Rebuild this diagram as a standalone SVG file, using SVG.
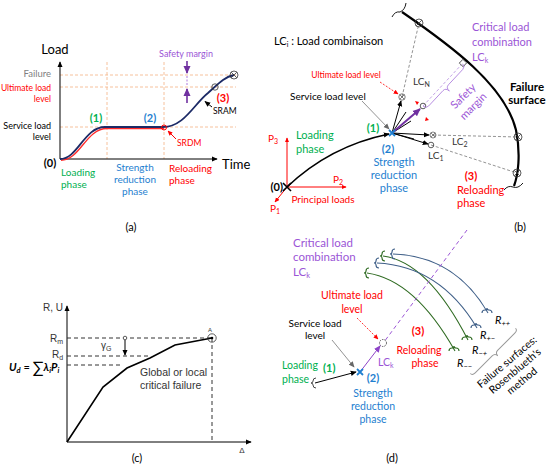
<svg xmlns="http://www.w3.org/2000/svg" width="550" height="469" viewBox="0 0 550 469">
<defs>
<marker id="mk" viewBox="0 0 8 8" refX="7" refY="4" markerWidth="6" markerHeight="6" markerUnits="userSpaceOnUse" orient="auto"><path d="M0,0.5 L8,4 L0,7.5 z" fill="#000"/></marker>
<marker id="mkr" viewBox="0 0 8 8" refX="7" refY="4" markerWidth="5" markerHeight="5" markerUnits="userSpaceOnUse" orient="auto"><path d="M0,0.5 L8,4 L0,7.5 z" fill="#ff0000"/></marker>
<marker id="mkp" viewBox="0 0 8 8" refX="7" refY="4" markerWidth="8" markerHeight="8" markerUnits="userSpaceOnUse" orient="auto"><path d="M0,0.5 L8,4 L0,7.5 z" fill="#7030a0"/></marker>
<marker id="mkl" viewBox="0 0 8 8" refX="7" refY="4" markerWidth="7" markerHeight="7" markerUnits="userSpaceOnUse" orient="auto"><path d="M0,0.5 L8,4 L0,7.5 z" fill="#8e44c8"/></marker>
<marker id="mkg" viewBox="0 0 8 8" refX="7" refY="4" markerWidth="6" markerHeight="6" markerUnits="userSpaceOnUse" orient="auto"><path d="M0,0.5 L8,4 L0,7.5 z" fill="#666"/></marker>
<g id="cx"><circle r="4" fill="#fff" fill-opacity="0" stroke="#333" stroke-width="0.8"/><path d="M-2.8,-2.8 L2.8,2.8 M-2.8,2.8 L2.8,-2.8" stroke="#333" stroke-width="0.8"/></g>
<g id="bx"><path d="M-3,-3 L3,3 M-3,3 L3,-3" stroke="#1f7fd0" stroke-width="1.8"/></g>
</defs>
<style>
text{font-family:Lato,"Liberation Sans",sans-serif;fill:#000}
.ar{font-family:"Liberation Sans",Arial,sans-serif}
.g{fill:#00b050}.b{fill:#1f7fd0}.r{fill:#ff0000}.p{fill:#9b55d6}.gy{fill:#7f7f7f}.dk{fill:#333}
.bd{font-weight:bold}
.mid{text-anchor:middle}.end{text-anchor:end}
.od{stroke:#f4b183;stroke-width:0.8;stroke-dasharray:3 2;fill:none}
.ln{fill:none;stroke:#000;stroke-width:1}
.gd{fill:none;stroke:#777;stroke-width:0.8;stroke-dasharray:3 2}
.kd{fill:none;stroke:#333;stroke-width:1;stroke-dasharray:4 3}
.bc{fill:none;stroke:#3f5f88;stroke-width:1.1}
.gc{fill:none;stroke:#2f6b22;stroke-width:1.1}
</style>

<!-- ============ Panel (a) ============ -->
<g id="panel-a">
  <g id="a-grid">
    <path class="od" d="M60,75 H236 M60,87 H236 M60,127 H236 M107,62 V159 M164,62 V159"/>
  </g>
  <g id="a-connectors">
    <path class="ln" d="M60,159 V62" marker-end="url(#mk)"/>
    <path class="ln" d="M60,159 H217" marker-end="url(#mk)"/>
    <path d="M61,160.3 C80,160.3 86,128.5 107,128.5 L164,128.5" fill="none" stroke="#ff2a2a" stroke-width="1.3"/>
    <path d="M60,159 C78,159 84,127 105,127 L163,127 C184,127 194,104 208,93 C218,84 224,77 234,75" fill="none" stroke="#1c2a66" stroke-width="1.8"/>
    <path d="M187,61 V73" stroke="#7030a0" stroke-width="1.6" fill="none" marker-end="url(#mkp)"/>
    <path d="M187,103 V89" stroke="#7030a0" stroke-width="1.6" fill="none" marker-end="url(#mkp)"/>
    <path d="M187,76 V86" stroke="#9b55d6" stroke-width="0.8" stroke-dasharray="2 1.5"/>
    <path d="M176,139 L168,131" fill="none" stroke="#ff0000" stroke-width="1" marker-end="url(#mkr)"/>
    <path d="M212,107 L205,101.5" class="ln" stroke-width="0.8" marker-end="url(#mk)"/>
    <circle cx="164" cy="127.5" r="2.5" fill="none" stroke="#ff0000" stroke-width="1"/>
    <circle cx="215" cy="87" r="3.2" fill="none" stroke="#333" stroke-width="0.8"/>
    <use href="#cx" x="234" y="75"/>
  </g>
  <g id="a-labels">
    <text x="55" y="54" class="mid" font-size="13">Load</text>
    <text x="51" y="77" class="end gy" font-size="9.5">Failure</text>
    <text x="51" y="91" class="end r" font-size="8.5">Ultimate load</text>
    <text x="51" y="102" class="end r" font-size="8.5">level</text>
    <text x="51" y="129" class="end" font-size="9">Service load</text>
    <text x="51" y="139.5" class="end" font-size="9">level</text>
    <text x="186" y="57" class="mid p" font-size="9">Safety margin</text>
    <text x="96" y="122" class="mid g bd" font-size="11">(1)</text>
    <text x="150" y="122" class="mid b bd" font-size="11">(2)</text>
    <text x="223" y="102" class="mid r bd" font-size="11">(3)</text>
    <text x="213" y="114" font-size="8.5">SRAM</text>
    <text x="177" y="145.5" class="r" font-size="8.5">SRDM</text>
    <text x="50" y="167" class="mid bd" font-size="11">(0)</text>
    <text x="222" y="169" font-size="13">Time</text>
    <text x="61" y="176" class="g" font-size="10">Loading</text>
    <text x="61" y="188" class="g" font-size="10">phase</text>
    <text x="135" y="171" class="mid b" font-size="10">Strength</text>
    <text x="135" y="183" class="mid b" font-size="10">reduction</text>
    <text x="135" y="195" class="mid b" font-size="10">phase</text>
    <text x="169" y="172" class="r" font-size="10">Reloading</text>
    <text x="169" y="184" class="r" font-size="10">phase</text>
    <text x="131" y="231" class="mid" font-size="11">(a)</text>
  </g>
</g>

<!-- ============ Panel (b) ============ -->
<g id="panel-b">
  <g id="b-surface">
    <path d="M402,12 C450,45 505,85 516,130 C521,155 518,175 514,186" fill="none" stroke="#000" stroke-width="2.2"/>
    <path d="M392,17 Q395,11 400,12 Q405,10 406,3" fill="none" stroke="#000" stroke-width="0.9"/>
    <path d="M504,190 Q508,185 513,187 Q518,189 523,183" fill="none" stroke="#000" stroke-width="0.9"/>
  </g>
  <g id="b-connectors">
    <path class="gd" d="M402,97 L419,23 M433,135 L518,137 M431,145 L517,173"/>
    <path d="M423,106 L463,63" fill="none" stroke="#b48ae0" stroke-width="0.8" stroke-dasharray="3 2"/>
    <path d="M287,187 V138" fill="none" stroke="#ff0000" stroke-width="1" marker-end="url(#mkr)"/>
    <path d="M287,187 H346" fill="none" stroke="#ff0000" stroke-width="1" marker-end="url(#mkr)"/>
    <path d="M287,187 L275,202" fill="none" stroke="#ff0000" stroke-width="1" marker-end="url(#mkr)"/>
    <path d="M287,187 Q330,146 389,134" fill="none" stroke="#000" stroke-width="1.5" marker-end="url(#mk)"/>
    <path d="M362,101 L389,129" fill="none" stroke="#777" stroke-width="0.8" marker-end="url(#mkg)"/>
    <path d="M380,82 L398,94" fill="none" stroke="#ff0000" stroke-width="0.8" stroke-dasharray="2 1.5" marker-end="url(#mkr)"/>
    <path d="M392,133 L401,101" class="ln" stroke-width="0.8" marker-end="url(#mk)"/>
    <path d="M392,133 L429,135" class="ln" stroke-width="0.8" marker-end="url(#mk)"/>
    <path d="M392,133 L428,144" class="ln" stroke-width="0.8" marker-end="url(#mk)"/>
    <path d="M392,133 L411,121 M392,133 L414,139 M392,133 L406,112" class="ln" stroke-width="0.6"/>
    <path d="M392,133 L420,109" fill="none" stroke="#7030a0" stroke-width="2" marker-end="url(#mkp)"/>
    <path d="M415,101 l4,1 l-2,3 z M426,117 l3,3 l-4,1 z" fill="#ff0000"/>
    <path d="M283,183 L291,191 M283,191 L291,183" stroke="#000" stroke-width="1.6"/>
    <use href="#bx" x="392" y="133"/>
    <use href="#cx" x="419" y="23"/>
    <use href="#cx" x="402" y="97" transform="translate(402,97) scale(0.8) translate(-402,-97)"/>
    <use href="#cx" x="433" y="135" transform="translate(433,135) scale(0.75) translate(-433,-135)"/>
    <circle cx="431" cy="145" r="2.8" fill="none" stroke="#333" stroke-width="0.8"/>
    <circle cx="423" cy="106" r="2.8" fill="none" stroke="#333" stroke-width="0.8"/>
    <use href="#cx" x="518" y="137"/>
    <use href="#cx" x="517" y="173"/>
    <rect x="-2.6" y="-2.6" width="5.2" height="5.2" fill="#fff" stroke="#333" stroke-width="0.8" transform="translate(463,63) rotate(-47)"/>
    <path d="M-29,-3 Q-29,1 -25,1 L-4,1 Q0,1 0,6 Q0,1 4,1 L25,1 Q29,1 29,-3" fill="none" stroke="#b48ae0" stroke-width="0.9" transform="translate(445,87) rotate(-47)"/>
  </g>
  <g id="b-labels">
    <text x="274" y="45" font-size="11">LC<tspan font-size="7" dy="2">i</tspan><tspan dy="-2"> : Load combinaison</tspan></text>
    <text x="346" y="78" class="mid r" font-size="8.5">Ultimate load level</text>
    <text x="290" y="100" font-size="10">Service load level</text>
    <text x="413" y="85" class="dk" font-size="10">LC<tspan font-size="7" dy="2">N</tspan></text>
    <text x="472" y="31" class="p" font-size="11">Critical load</text>
    <text x="472" y="46" class="p" font-size="11">combination</text>
    <text x="472" y="61" class="p" font-size="11">LC<tspan font-size="7" dy="2">k</tspan></text>
    <text x="527" y="91" class="mid bd" font-size="11.5">Failure</text>
    <text x="527" y="104" class="mid bd" font-size="11.5">surface</text>
    <text x="0" y="4" class="mid p" font-size="11" transform="translate(463,96) rotate(-45)">Safety</text>
    <text x="0" y="4" class="mid p" font-size="11" transform="translate(473,106) rotate(-45)">margin</text>
    <text x="452" y="145" class="dk" font-size="10">LC<tspan font-size="7" dy="2">2</tspan></text>
    <text x="428" y="159" class="dk" font-size="10">LC<tspan font-size="7" dy="2">1</tspan></text>
    <text x="471" y="180" class="mid r bd" font-size="11">(3)</text>
    <text x="457" y="194" class="r" font-size="11">Reloading</text>
    <text x="457" y="207" class="r" font-size="11">phase</text>
    <text x="373" y="132" class="mid g bd" font-size="11">(1)</text>
    <text x="388" y="153" class="mid b bd" font-size="11">(2)</text>
    <text x="394" y="166" class="mid b" font-size="11">Strength</text>
    <text x="394" y="179" class="mid b" font-size="11">reduction</text>
    <text x="394" y="192" class="mid b" font-size="11">phase</text>
    <text x="296" y="139" class="g" font-size="11">Loading</text>
    <text x="296" y="153" class="g" font-size="11">phase</text>
    <text x="268" y="142" class="r" font-size="10">P<tspan font-size="7" dy="2">3</tspan></text>
    <text x="333" y="183" class="r" font-size="10">P<tspan font-size="7" dy="2">2</tspan></text>
    <text x="270" y="212" class="r" font-size="10">P<tspan font-size="7" dy="2">1</tspan></text>
    <text x="323" y="203" class="mid r" font-size="10">Principal loads</text>
    <text x="283" y="191" class="end bd" font-size="11">(0)</text>
    <text x="520" y="231" class="mid" font-size="11">(b)</text>
  </g>
</g>

<!-- ============ Panel (c) ============ -->
<g id="panel-c">
  <g id="c-connectors">
    <path class="ln" d="M67,442 V306" marker-end="url(#mk)"/>
    <path class="ln" d="M67,442 H251" marker-end="url(#mk)"/>
    <path class="kd" d="M67,338 H212 M67,356 H150 M67,365 H122 M212,338 V442"/>
    <path d="M67,442 L103,387 L127,368 L150,358 L175,345 L212,338" fill="none" stroke="#000" stroke-width="1.6"/>
    <circle cx="125" cy="338" r="1.8" fill="#fff" stroke="#333" stroke-width="0.8"/>
    <path d="M125,340 V355" class="ln" stroke-width="0.8" marker-end="url(#mk)"/>
    <circle cx="212" cy="338" r="4.2" fill="none" stroke="#333" stroke-width="0.8"/>
    <circle cx="212" cy="338" r="1.3" fill="#000"/>
  </g>
  <g id="c-labels">
    <text x="43" y="311" class="ar dk" font-size="10">R, U</text>
    <text x="50" y="342" class="ar dk" font-size="10">R<tspan font-size="7" dy="2">m</tspan></text>
    <text x="52" y="358" class="ar dk" font-size="10">R<tspan font-size="7" dy="2">d</tspan></text>
    <text x="9" y="371" font-family="Liberation Serif,serif" font-style="italic" font-weight="bold" font-size="11">U<tspan font-size="7.5" dy="2">d</tspan><tspan dy="-2" font-style="normal" font-weight="normal"> = </tspan><tspan font-size="16" font-style="normal" font-weight="normal" dy="2">∑</tspan><tspan dy="-2">λ</tspan><tspan font-size="7.5" dy="2">i</tspan><tspan dy="-2">P</tspan><tspan font-size="7.5" dy="2">i</tspan></text>
    <text x="101" y="349" class="ar dk" font-size="10">γ<tspan font-size="7" dy="2">G</tspan></text>
    <text x="210" y="332" class="ar mid dk" font-size="6">A</text>
    <text x="140" y="376" class="ar dk" font-size="10.5">Global or local</text>
    <text x="140" y="389" class="ar dk" font-size="10.5">critical failure</text>
    <text x="242" y="453" class="ar mid dk" font-size="8">Δ</text>
    <text x="137" y="462" class="mid" font-size="11">(c)</text>
  </g>
</g>

<!-- ============ Panel (d) ============ -->
<g id="panel-d">
  <g id="d-surfaces">
    <path class="bc" d="M393,254 Q455,256 488,313"/>
    <path class="gc" d="M383,256 Q428,262 468,340"/>
    <path class="bc" d="M377,263 Q440,266 477,328"/>
    <path class="gc" d="M367,273 Q415,280 455,351"/>
    <path class="bc" d="M395,249 q-3,0 -3,3 q0,2 -2,2 q2,0 2,2 q0,3 3,3"/>
    <path class="gc" d="M385,251 q-3,0 -3,3 q0,2 -2,2 q2,0 2,2 q0,3 3,3"/>
    <path class="bc" d="M379,258 q-3,0 -3,3 q0,2 -2,2 q2,0 2,2 q0,3 3,3"/>
    <path class="gc" d="M369,268 q-3,0 -3,3 q0,2 -2,2 q2,0 2,2 q0,3 3,3"/>
    <path class="bc" d="M482,313 q0,-3 3,-3 q2,0 2,-2 q0,2 2,2 q3,0 3,3"/>
    <path class="bc" d="M471,328 q0,-3 3,-3 q2,0 2,-2 q0,2 2,2 q3,0 3,3"/>
    <path class="gc" d="M462,340 q0,-3 3,-3 q2,0 2,-2 q0,2 2,2 q3,0 3,3"/>
    <path class="gc" d="M449,351 q0,-3 3,-3 q2,0 2,-2 q0,2 2,2 q3,0 3,3"/>
    <path d="M-32,-3 Q-32,0 -28,0 L-4,0 Q0,0 0,4 Q0,0 4,0 L28,0 Q32,0 32,-3" fill="none" stroke="#999" stroke-width="1" transform="translate(495,353) rotate(-45)"/>
  </g>
  <g id="d-connectors">
    <path d="M467,230 L384,342" fill="none" stroke="#9b55d6" stroke-width="1" stroke-dasharray="4 3"/>
    <circle cx="383" cy="343" r="3.5" fill="none" stroke="#333" stroke-width="0.8" stroke-dasharray="1.5 1"/>
    <path d="M357,318 L378,339" fill="none" stroke="#ff0000" stroke-width="0.8" stroke-dasharray="2 1.5" marker-end="url(#mkr)"/>
    <path d="M332,340 L354,367" fill="none" stroke="#777" stroke-width="0.8" marker-end="url(#mkg)"/>
    <path d="M315,383 L356,372" class="ln" stroke-width="0.9" marker-end="url(#mk)"/>
    <path d="M316,378 q-3,0 -3,3 q0,2 -2,2 q2,0 2,2 q0,3 3,3" fill="none" stroke="#333" stroke-width="0.9"/>
    <path d="M360,372 L380,346" fill="none" stroke="#8e44c8" stroke-width="1" marker-end="url(#mkl)"/>
    <use href="#bx" x="360" y="372"/>
  </g>
  <g id="d-labels">
    <text x="293" y="247" class="p" font-size="11.5">Critical load</text>
    <text x="293" y="261" class="p" font-size="11.5">combination</text>
    <text x="293" y="276" class="p" font-size="11.5">LC<tspan font-size="7.5" dy="2">k</tspan></text>
    <text x="352" y="299" class="mid r" font-size="10.5">Ultimate load</text>
    <text x="352" y="313" class="mid r" font-size="10.5">level</text>
    <text x="315" y="327" class="mid" font-size="10">Service load</text>
    <text x="315" y="339" class="mid" font-size="10">level</text>
    <text x="378" y="366" class="p" font-size="10.5">LC<tspan font-size="7" dy="2">k</tspan></text>
    <text x="282" y="369" class="g" font-size="10.5">Loading</text>
    <text x="282" y="383" class="g" font-size="10.5">phase</text>
    <text x="323" y="372" class="g bd" font-size="11">(1)</text>
    <text x="373" y="382" class="mid b bd" font-size="11">(2)</text>
    <text x="373" y="397" class="mid b" font-size="10.5">Strength</text>
    <text x="373" y="410" class="mid b" font-size="10.5">reduction</text>
    <text x="373" y="423" class="mid b" font-size="10.5">phase</text>
    <text x="418" y="335" class="mid r bd" font-size="11">(3)</text>
    <text x="419" y="354" class="mid r" font-size="10.5">Reloading</text>
    <text x="425" y="367" class="mid r" font-size="10.5">phase</text>
    <text x="495" y="324" font-family="Liberation Serif,serif" font-style="italic" font-size="11" fill="#4a6a95">R<tspan font-size="7.5" dy="2">++</tspan></text>
    <text x="480" y="339" font-family="Liberation Serif,serif" font-style="italic" font-size="11" fill="#4a6a95">R<tspan font-size="7.5" dy="2">+−</tspan></text>
    <text x="472" y="354" font-family="Liberation Serif,serif" font-style="italic" font-size="11" fill="#4a7f3a">R<tspan font-size="7.5" dy="2">−+</tspan></text>
    <text x="457" y="367" font-family="Liberation Serif,serif" font-style="italic" font-size="11" fill="#4a7f3a">R<tspan font-size="7.5" dy="2">−−</tspan></text>
    <text x="0" y="3.5" class="mid" font-size="10.5" transform="translate(507,362) rotate(-40)">Failure surfaces:</text>
    <text x="0" y="3.5" class="mid" font-size="10.5" transform="translate(515,371) rotate(-40)">Rosenblueth's</text>
    <text x="0" y="3.5" class="mid" font-size="10.5" transform="translate(522,381) rotate(-40)">method</text>
    <text x="392" y="462" class="mid" font-size="11">(d)</text>
  </g>
</g>
</svg>
